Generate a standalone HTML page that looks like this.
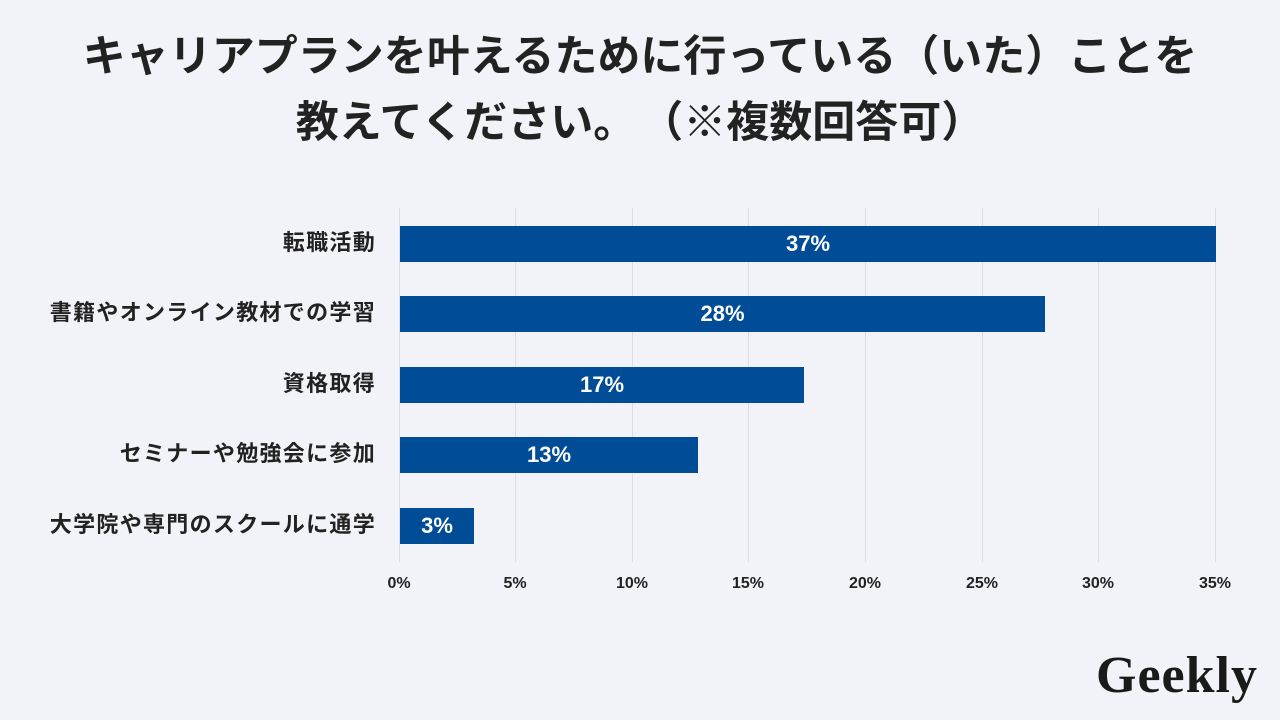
<!DOCTYPE html>
<html><head><meta charset="utf-8"><style>
body{margin:0;width:1280px;height:720px;background:#f2f3f8;position:relative;overflow:hidden;font-family:"Liberation Sans","Noto Sans CJK JP",sans-serif;color:#222}
.t{position:absolute;left:0;width:1280px;text-align:center;font-size:43px;font-weight:bold;letter-spacing:0px}
.g{position:absolute;top:208px;height:354px;width:1px;background:#dcdde2}
.bar{position:absolute;left:400px;height:36px;background:#004c97;color:#fff;font-weight:bold;font-size:22px;line-height:36px;text-align:center}
.lab{position:absolute;right:904px;font-size:22px;font-weight:bold;line-height:36px;white-space:nowrap;letter-spacing:1.3px}
.tk{position:absolute;top:575px;width:60px;margin-left:-30px;text-align:center;font-size:16px;font-weight:bold}
.logo{position:absolute;left:1096px;top:646px;font-family:"Liberation Serif",serif;font-weight:bold;font-size:52px;color:#1a1a1a;letter-spacing:1px}
</style></head><body>
<div class="t" style="top:22px">キャリアプランを叶えるために行っている（いた）ことを</div>
<div class="t" style="top:88px">教えてください。<span style="display:inline-block;width:4px"></span>（※複数回答可）</div>
<div class="g" style="left:399px"></div><div class="g" style="left:515px"></div><div class="g" style="left:632px"></div><div class="g" style="left:748px"></div><div class="g" style="left:865px"></div><div class="g" style="left:982px"></div><div class="g" style="left:1098px"></div><div class="g" style="left:1215px"></div>
<div class="bar" style="top:226px;width:816px">37%</div>
<div class="bar" style="top:296px;width:645px">28%</div>
<div class="bar" style="top:367px;width:404px">17%</div>
<div class="bar" style="top:437px;width:298px">13%</div>
<div class="bar" style="top:508px;width:74px">3%</div>
<div class="lab" style="top:225px">転職活動</div>
<div class="lab" style="top:295px">書籍やオンライン教材での学習</div>
<div class="lab" style="top:366px">資格取得</div>
<div class="lab" style="top:436px">セミナーや勉強会に参加</div>
<div class="lab" style="top:507px">大学院や専門のスクールに通学</div>
<div class="tk" style="left:399px">0%</div><div class="tk" style="left:515px">5%</div><div class="tk" style="left:632px">10%</div><div class="tk" style="left:748px">15%</div><div class="tk" style="left:865px">20%</div><div class="tk" style="left:982px">25%</div><div class="tk" style="left:1098px">30%</div><div class="tk" style="left:1215px">35%</div>
<div class="logo">Geekly</div>
</body></html>
